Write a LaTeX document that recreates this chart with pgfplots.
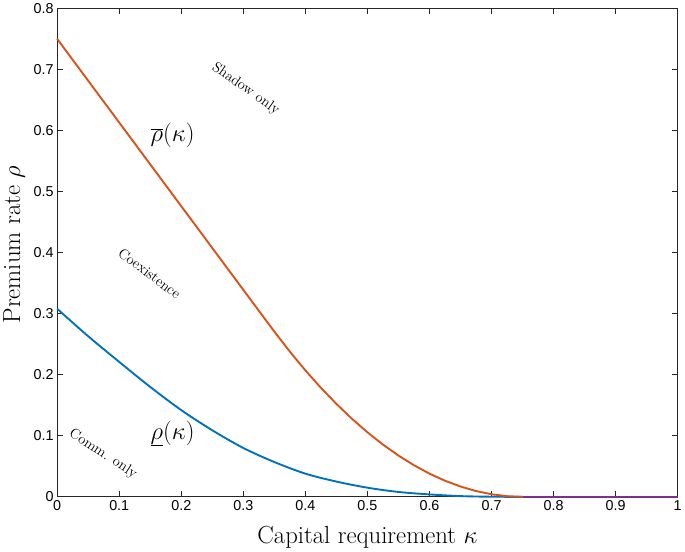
\documentclass[border=0pt]{standalone}
\usepackage{fontspec}
\usepackage{pgfplots}
\pgfplotsset{compat=1.18}
\newfontfamily\hel{Liberation Sans}
\definecolor{mblue}{rgb}{0,0.447,0.741}
\definecolor{morange}{rgb}{0.85,0.325,0.098}
\definecolor{mpurple}{rgb}{0.494,0.184,0.556}
\definecolor{maxis}{rgb}{0.15,0.15,0.15}
\begin{document}
\begin{tikzpicture}
\begin{axis}[
  scale only axis,
  width=625bp, height=492bp,
  xmin=0, xmax=1, ymin=0, ymax=0.8,
  xtick={0,0.1,...,1.01},
  ytick={0,0.1,...,0.81},
  xticklabels={0,0.1,0.2,0.3,0.4,0.5,0.6,0.7,0.8,0.9,1},
  yticklabels={0,0.1,0.2,0.3,0.4,0.5,0.6,0.7,0.8},
  tick align=inside,
  major tick length=6bp,
  axis line style={maxis, line width=0.8bp},
  tick style={maxis, line width=0.8bp},
  ticklabel style={font=\hel\fontsize{14.5}{16}\selectfont, text=black},
  /pgf/number format/assume math mode=true,
  xlabel={Capital requirement $\kappa$},
  ylabel={Premium rate $\rho$},
  label style={font=\fontsize{25}{28}\selectfont},
  xlabel style={yshift=-9bp},
  ylabel style={yshift=2bp, xshift=8bp},
  clip=false,
]
\addplot[color=mblue, line width=1.9bp, smooth] coordinates {
(0,0.308) (0.05,0.263) (0.1,0.221) (0.15,0.180) (0.2,0.142) (0.25,0.109)
(0.3,0.080) (0.35,0.057) (0.4,0.038) (0.45,0.025) (0.5,0.015) (0.55,0.008)
(0.6,0.004) (0.65,0.0012) (0.7,0.0002) (0.75,0)
};
\addplot[color=morange, line width=1.9bp] coordinates {
(0,0.750) (0.1,0.613) (0.2,0.476) (0.3,0.339) (0.345,0.2774)
(0.35,0.2706) (0.375,0.2378) (0.4,0.2071) (0.425,0.1786) (0.45,0.1522)
(0.475,0.1279) (0.5,0.1057) (0.525,0.0856) (0.55,0.0676) (0.575,0.0518)
(0.6,0.0380) (0.625,0.0264) (0.65,0.0169) (0.675,0.0095) (0.7,0.0042)
(0.725,0.0011) (0.75,0)
};
\addplot[color=mpurple, line width=1.9bp] coordinates {
(0.75,0) (1,0)
};
\node[font=\fontsize{24.5}{28}\selectfont] at (axis cs:0.186,0.592) {$\overline{\rho}(\kappa)$};
\node[font=\fontsize{24.5}{28}\selectfont] at (axis cs:0.186,0.104) {$\underline{\rho}(\kappa)$};
\node[font=\fontsize{14.7}{17}\selectfont, rotate=-35] at (axis cs:0.304,0.668) {Shadow only};
\node[font=\fontsize{14.7}{17}\selectfont, rotate=-37] at (axis cs:0.149,0.366) {Coexistence};
\node[font=\fontsize{14.7}{17}\selectfont, rotate=-33] at (axis cs:0.074,0.070) {Comm. only};
\end{axis}
\end{tikzpicture}
\end{document}
